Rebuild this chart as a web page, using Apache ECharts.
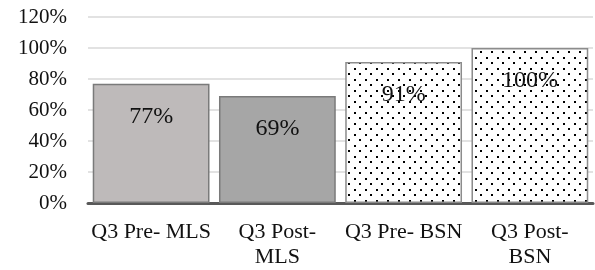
<!DOCTYPE html>
<html>
<head>
<meta charset="utf-8">
<script src="https://cdn.jsdelivr.net/npm/echarts@6/dist/echarts.min.js"></script>
<style>
  html, body { margin: 0; padding: 0; background: #fff; }
  #chart { width: 595px; height: 270px; }
</style>
</head>
<body>
<div id="chart"></div>
<script>
const categories = ['Q3 Pre- MLS', 'Q3 Post-\nMLS', 'Q3 Pre- BSN', 'Q3 Post-\nBSN'];
const values = [77, 69, 91, 100];
const yTicks = { min: 0, max: 120, interval: 20 };

// dotted fill like the Excel pattern
function dotPattern() {
  const c = document.createElement('canvas');
  c.width = 11; c.height = 11;
  const ctx = c.getContext('2d');
  ctx.fillStyle = '#fff';
  ctx.fillRect(0, 0, 11, 11);
  ctx.fillStyle = '#000';
  ctx.fillRect(2, 2, 2, 2);
  ctx.fillRect(7, 7, 2, 2);
  return c;
}
const dots = { image: dotPattern(), repeat: 'repeat' };
const fills = ['#bebaba', '#a6a6a6', dots, dots];
const font = '"Liberation Serif", "Times New Roman", serif';

const chart = echarts.init(document.getElementById('chart'));
chart.setOption({
  animation: false,
  grid: { left: 88, right: 2, top: 17, bottom: 67 },
  xAxis: {
    type: 'category',
    data: categories,
    axisLine: { lineStyle: { color: '#595959', width: 3 } },
    axisTick: { show: false },
    axisLabel: { interval: 0, color: '#111', fontFamily: font, fontSize: 22, lineHeight: 25, margin: 17 }
  },
  yAxis: {
    type: 'value',
    min: yTicks.min, max: yTicks.max, interval: yTicks.interval,
    axisLine: { show: false },
    axisTick: { show: false },
    axisLabel: {
      color: '#111', fontFamily: font, fontSize: 21, margin: 21,
      padding: [8, 0, 0, 0],
      formatter: v => v + '%'
    },
    splitLine: { lineStyle: { color: '#d9d9d9', width: 1.5 } }
  },
  series: [{
    type: 'bar',
    barCategoryGap: '7.5%',
    data: values.map((v, i) => ({
      value: v,
      itemStyle: { color: fills[i], borderColor: i < 2 ? '#7a7a7a' : '#8c8c8c', borderWidth: 1.5 }
    })),
    label: {
      show: true, position: 'insideTop', distance: 21,
      color: '#111', fontFamily: font, fontSize: 24,
      formatter: p => p.value + '%'
    }
  }]
});
</script>
</body>
</html>
